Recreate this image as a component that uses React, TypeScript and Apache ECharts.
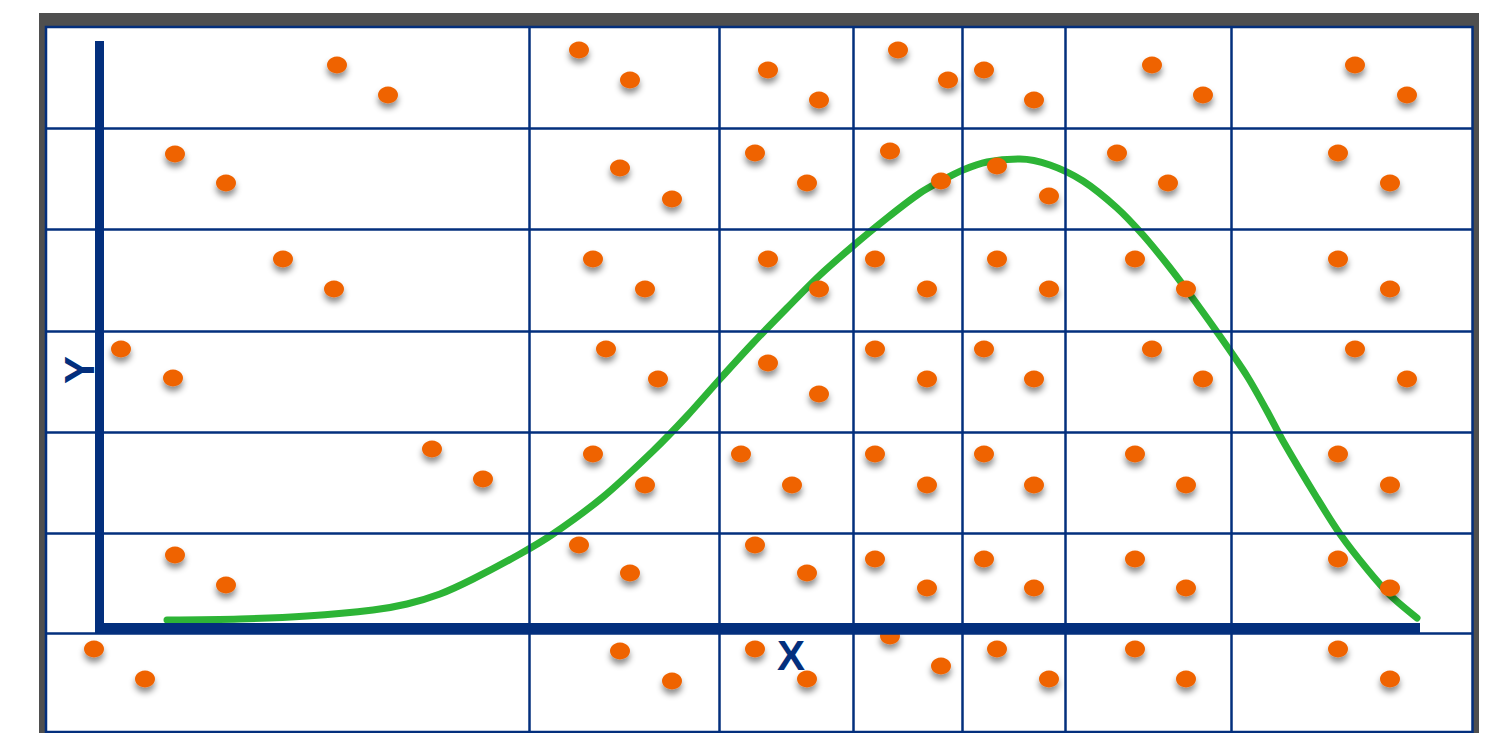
import React, { useEffect, useRef } from "react";
import * as echarts from "echarts";

// Graph-paper rules (data units), interior lines only; the outer frame is the grid border
const verticalRules = [42.9, 61.9, 75.3, 86.2, 96.5, 113.1];
const horizontalRules = [49.9, 39.8, 29.6, 19.5, 9.4, -0.6];

// Axis extents
const xAxisStart = -0.5;
const xAxisEnd = 132;
const yAxisStart = -0.6;
const yAxisEnd = 58.6;

// Scatter points, one array per band of the paper
const band1 = [
  [23.7, 56.2], [28.8, 53.2], [47.9, 57.7], [53.0, 54.7], [66.8, 55.7], [71.9, 52.7],
  [79.8, 57.7], [84.8, 54.7], [88.4, 55.7], [93.4, 52.7], [105.2, 56.2], [110.3, 53.2],
  [125.5, 56.2], [130.7, 53.2],
];
const band2 = [
  [7.5, 47.3], [12.6, 44.4], [52.0, 45.9], [57.2, 42.8], [65.5, 47.4], [70.7, 44.4],
  [79.0, 47.6], [84.1, 44.6], [89.7, 46.1], [94.9, 43.1], [101.7, 47.4], [106.8, 44.4],
  [123.8, 47.4], [129.0, 44.4],
];
const band3 = [
  [18.3, 36.8], [23.4, 33.8], [49.3, 36.8], [54.5, 33.8], [66.8, 36.8], [71.9, 33.8],
  [77.5, 36.8], [82.7, 33.8], [89.7, 36.8], [94.9, 33.8], [103.5, 36.8], [108.6, 33.8],
  [123.8, 36.8], [129.0, 33.8],
];
const band4 = [
  [2.1, 27.8], [7.3, 24.9], [50.6, 27.8], [55.8, 24.8], [66.8, 26.4], [71.9, 23.3],
  [77.5, 27.8], [82.7, 24.8], [88.4, 27.8], [93.4, 24.8], [105.2, 27.8], [110.3, 24.8],
  [125.5, 27.8], [130.7, 24.8],
];
const band5 = [
  [33.2, 17.8], [38.3, 14.8], [49.3, 17.3], [54.5, 14.2], [64.1, 17.3], [69.2, 14.2],
  [77.5, 17.3], [82.7, 14.2], [88.4, 17.3], [93.4, 14.2], [103.5, 17.3], [108.6, 14.2],
  [123.8, 17.3], [129.0, 14.2],
];
const band6 = [
  [7.5, 7.2], [12.6, 4.2], [47.9, 8.2], [53.0, 5.4], [65.5, 8.2], [70.7, 5.4],
  [77.5, 6.8], [82.7, 3.9], [88.4, 6.8], [93.4, 3.9], [103.5, 6.8], [108.6, 3.9],
  [123.8, 6.8], [129.0, 3.9],
];
const band7 = [
  [-0.6, -2.2], [4.5, -5.2], [52.0, -2.4], [57.2, -5.4], [65.5, -2.2], [70.7, -5.2],
  [79.0, -0.9], [84.1, -3.9], [89.7, -2.2], [94.9, -5.2], [103.5, -2.2], [108.6, -5.2],
  [123.8, -2.2], [129.0, -5.2],
];

// Bell-shaped curve
const bellCurve = [
  [6.7, 0.7], [14.0, 0.8], [20.7, 1.1], [27.3, 1.7], [30.7, 2.3], [34.0, 3.3],
  [37.3, 4.8], [42.0, 7.3], [45.3, 9.3], [50.3, 13.0], [55.3, 17.6], [58.7, 21.1],
  [62.0, 24.8], [65.3, 28.4], [68.7, 31.9], [72.0, 35.2], [75.3, 38.1], [78.7, 40.9],
  [82.0, 43.4], [84.1, 44.6], [86.3, 45.7], [88.7, 46.5], [92.0, 46.8], [95.0, 46.2],
  [98.3, 44.6], [101.7, 41.9], [104.3, 39.2], [106.7, 36.3], [108.6, 33.8], [111.7, 29.5],
  [114.7, 25.1], [116.7, 21.6], [118.3, 18.6], [121.7, 12.9], [124.0, 9.3], [126.7, 5.8],
  [129.0, 3.2], [131.7, 0.9],
];

const NAVY = "#032f7d";
const ORANGE = "#ef6300";
const GREEN = "#2db436";

export default function App() {
  const ref = useRef<HTMLDivElement>(null);

  useEffect(() => {
    if (!ref.current) return;
    const chart = echarts.init(ref.current, undefined, { renderer: "svg" });
    const dots = [...band1, ...band2, ...band3, ...band4, ...band5, ...band6, ...band7];

    chart.setOption({
      animation: false,
      grid: {
        left: 46,
        top: 27,
        width: 1426.5,
        height: 705,
        show: true,
        backgroundColor: "#ffffff",
        borderColor: NAVY,
        borderWidth: 2.5,
      },
      xAxis: { type: "value", min: -5.4, max: 137.25, show: false },
      yAxis: { type: "value", min: -10.5, max: 60, show: false },
      series: [
        {
          type: "scatter",
          data: [],
          z: 1,
          silent: true,
          markLine: {
            silent: true,
            symbol: ["none", "none"],
            label: { show: false },
            emphasis: { disabled: true },
            lineStyle: { color: NAVY, width: 2.5, type: "solid" },
            data: [
              ...verticalRules.map((v) => ({ xAxis: v })),
              ...horizontalRules.map((v) => ({ yAxis: v })),
            ],
          },
        },
        {
          type: "scatter",
          data: [],
          z: 2,
          silent: true,
          markLine: {
            silent: true,
            symbol: ["none", "none"],
            label: { show: false },
            emphasis: { disabled: true },
            lineStyle: { color: NAVY, type: "solid", cap: "butt" },
            data: [
              [
                { coord: [-0.05, yAxisStart], lineStyle: { width: 9, color: NAVY, type: "solid" } },
                { coord: [-0.05, yAxisEnd] },
              ],
              [
                { coord: [xAxisStart, -0.1], lineStyle: { width: 10, color: NAVY, type: "solid" } },
                { coord: [xAxisEnd, -0.1] },
              ],
            ],
          },
        },
        {
          type: "line",
          data: bellCurve,
          z: 3,
          smooth: 0.3,
          showSymbol: false,
          silent: true,
          lineStyle: { color: GREEN, width: 7, cap: "round" },
        },
        {
          type: "scatter",
          data: dots,
          z: 4,
          silent: true,
          symbol: "circle",
          symbolSize: [20, 17],
          itemStyle: {
            color: ORANGE,
            opacity: 1,
            shadowBlur: 6,
            shadowColor: "rgba(0,0,0,0.45)",
            shadowOffsetY: 5,
          },
        },
      ],
      graphic: [
        {
          type: "text",
          x: 791,
          y: 655,
          z: 10,
          style: {
            text: "X",
            fill: NAVY,
            font: "bold 42px 'Liberation Sans', Arial, sans-serif",
            textAlign: "center",
            textVerticalAlign: "middle",
          },
        },
        {
          type: "text",
          x: 79,
          y: 370,
          rotation: Math.PI / 2,
          z: 10,
          style: {
            text: "Y",
            fill: NAVY,
            font: "bold 42px 'Liberation Sans', Arial, sans-serif",
            textAlign: "center",
            textVerticalAlign: "middle",
          },
        },
      ],
    });

    return () => chart.dispose();
  }, []);

  return (
    <div
      style={{
        position: "fixed",
        left: 0,
        top: 0,
        width: 1492,
        height: 733,
        background: "#ffffff",
        overflow: "hidden",
      }}
    >
      <div
        style={{
          position: "absolute",
          left: 39,
          top: 13,
          width: 1440,
          height: 740,
          background: "#4f4f4f",
        }}
      />
      <div ref={ref} style={{ position: "absolute", left: 0, top: 0, width: 1492, height: 733 }} />
    </div>
  );
}
